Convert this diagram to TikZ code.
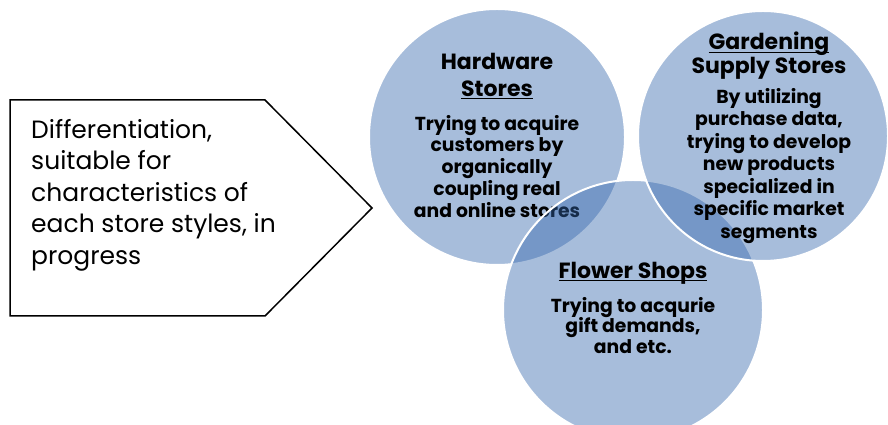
\documentclass[tikz,border=0pt]{standalone}
\usepackage{fontspec}
\setmainfont{Poppins}
\usetikzlibrary{positioning}
\definecolor{vennblue}{RGB}{51,102,172}

% underline that cuts through the descenders
\newcommand{\titleline}[1]{\setbox0\hbox{#1}\rlap{\rule[-3pt]{\wd0}{1pt}}\box0}

\begin{document}
\begin{tikzpicture}[x=1pt, y=1pt,
  venn/.style={circle, fill=vennblue, fill opacity=0.43, draw=white, line width=2pt, inner sep=0pt},
  storetitle/.style={font=\fontsize{22}{27}\selectfont\bfseries, align=center, inner sep=0pt},
  storebody/.style={font=\fontsize{18.8}{21.7}\selectfont\bfseries, align=center, inner sep=0pt}]

% page, the flower circle runs off the bottom
\clip (0,0) rectangle (888,425);

% pointed box on the left
\draw[line width=1.5pt] (10,325) -- (265,325) -- (372,217) -- (265,109) -- (10,109) -- cycle;
\node[font=\fontsize{25}{31.5}\selectfont, align=left, inner sep=0pt, anchor=north west] (goal) at (31,306)
  {Differentiation,\\suitable for\\characteristics of\\each store styles, in\\progress};

% hardware stores
\node[venn, minimum size=256pt] (hw) at (497,288) {};
\node[storetitle, anchor=north] (hwtitle) at (497,372) {Hardware\\\titleline{Stores}};
\node[storebody, anchor=north] (hwbody) at (497,310)
  {Trying to acquire\\customers by\\organically\\coupling real\\and online stores};

% flower shops
\node[venn, minimum size=260pt] (fl) at (633,115) {};
\node[storetitle, anchor=north] (fltitle) at (633,163) {\titleline{Flower Shops}};
\node[storebody, font=\fontsize{18.8}{20.5}\selectfont\bfseries, anchor=north] (flbody) at (633,128)
  {Trying to acqurie\\gift demands,\\and etc.};

% gardening supply stores
\node[venn, minimum size=250pt] (gd) at (763,289) {};
\node[storetitle, font=\fontsize{22}{24}\selectfont\bfseries, anchor=north] (gdtitle) at (769,393) {\titleline{Gardening}\\Supply Stores};
\node[storebody, font=\fontsize{18.8}{22.5}\selectfont\bfseries, anchor=north] (gdbody) at (769,337)
  {By utilizing\\purchase data,\\trying to develop\\new products\\specialized in\\specific market\\segments};

\end{tikzpicture}
\end{document}
